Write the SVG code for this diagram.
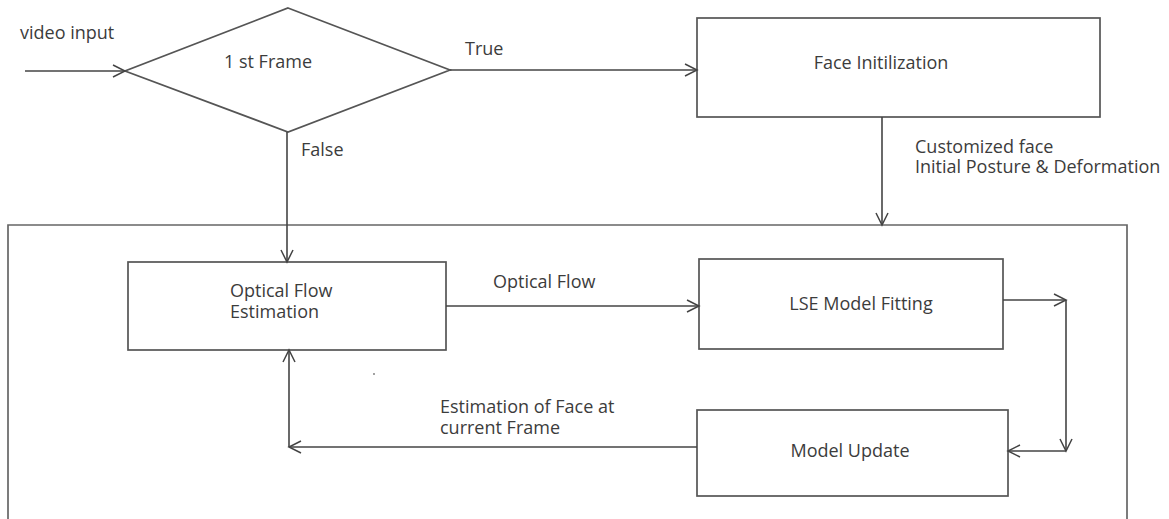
<svg xmlns="http://www.w3.org/2000/svg" width="1169" height="519" viewBox="0 0 1169 519">
  <defs>
    <style>
      .shape { fill: #ffffff; stroke: #555555; stroke-width: 1.7; }
      .frame { fill: none; stroke: #666666; stroke-width: 1.7; }
      .link { fill: none; stroke: #444444; stroke-width: 1.6; }
      .label { font-family: "Open Sans", "Liberation Sans", sans-serif; font-size: 18px; fill: #3c3c3c; }
      .mid { text-anchor: middle; }
    </style>
    <marker id="arrow" markerUnits="userSpaceOnUse" markerWidth="16" markerHeight="16" viewBox="-14 -8 16 16" refX="0" refY="0" orient="auto">
      <path d="M-12,-6 L0,0 L-12,6" fill="none" stroke="#444444" stroke-width="1.5"/>
    </marker>
  </defs>

  <rect width="1169" height="519" fill="#ffffff"/>

  <!-- tracking loop container (open at the bottom edge) -->
  <g id="tracking-loop">
    <path class="frame" d="M8,519 L8,225 L1127,225 L1127,519"/>
  </g>

  <!-- decision: first frame? -->
  <g id="first-frame">
    <polygon class="shape" points="288,8 450,70 288,132 125,71"/>
    <text class="label mid" x="268" y="68">1 st Frame</text>
  </g>

  <g id="face-init">
    <rect class="shape" x="697" y="18" width="403" height="99"/>
    <text class="label mid" x="881" y="69">Face Initilization</text>
  </g>

  <g id="optical-flow-estimation">
    <rect class="shape" x="128" y="262" width="318" height="88"/>
    <text class="label" x="230" y="297">Optical Flow</text>
    <text class="label" x="230" y="318">Estimation</text>
  </g>

  <g id="lse-model-fitting">
    <rect class="shape" x="699" y="259" width="304" height="90"/>
    <text class="label mid" x="861" y="310">LSE Model Fitting</text>
  </g>

  <g id="model-update">
    <rect class="shape" x="697" y="410" width="311" height="86"/>
    <text class="label mid" x="850" y="457">Model Update</text>
  </g>

  <!-- connectors -->
  <g id="connectors">
    <line class="link" x1="25" y1="71" x2="125" y2="71" marker-end="url(#arrow)"/>
    <line class="link" x1="450" y1="70" x2="697" y2="70" marker-end="url(#arrow)"/>
    <line class="link" x1="287" y1="132" x2="287" y2="262" marker-end="url(#arrow)"/>
    <line class="link" x1="882" y1="117" x2="882" y2="225" marker-end="url(#arrow)"/>
    <line class="link" x1="446" y1="306" x2="699" y2="306" marker-end="url(#arrow)"/>
    <line class="link" x1="1003" y1="300" x2="1066" y2="300" marker-end="url(#arrow)"/>
    <line class="link" x1="1066" y1="300" x2="1066" y2="451" marker-end="url(#arrow)"/>
    <line class="link" x1="1066" y1="451" x2="1008" y2="451" marker-end="url(#arrow)"/>
    <line class="link" x1="697" y1="447" x2="289" y2="447" marker-end="url(#arrow)"/>
    <line class="link" x1="289" y1="447" x2="289" y2="350" marker-end="url(#arrow)"/>
  </g>

  <!-- connector labels -->
  <g id="labels">
    <text class="label" x="20" y="39">video input</text>
    <text class="label" x="465" y="55">True</text>
    <text class="label" x="301" y="156">False</text>
    <text class="label" x="915" y="153">Customized face</text>
    <text class="label" x="915" y="173">Initial Posture &amp; Deformation</text>
    <text class="label" x="493" y="288">Optical Flow</text>
    <text class="label" x="440" y="413">Estimation of Face at</text>
    <text class="label" x="440" y="434">current Frame</text>
  </g>

  <circle cx="374" cy="374" r="0.9" fill="#777777"/>
</svg>
